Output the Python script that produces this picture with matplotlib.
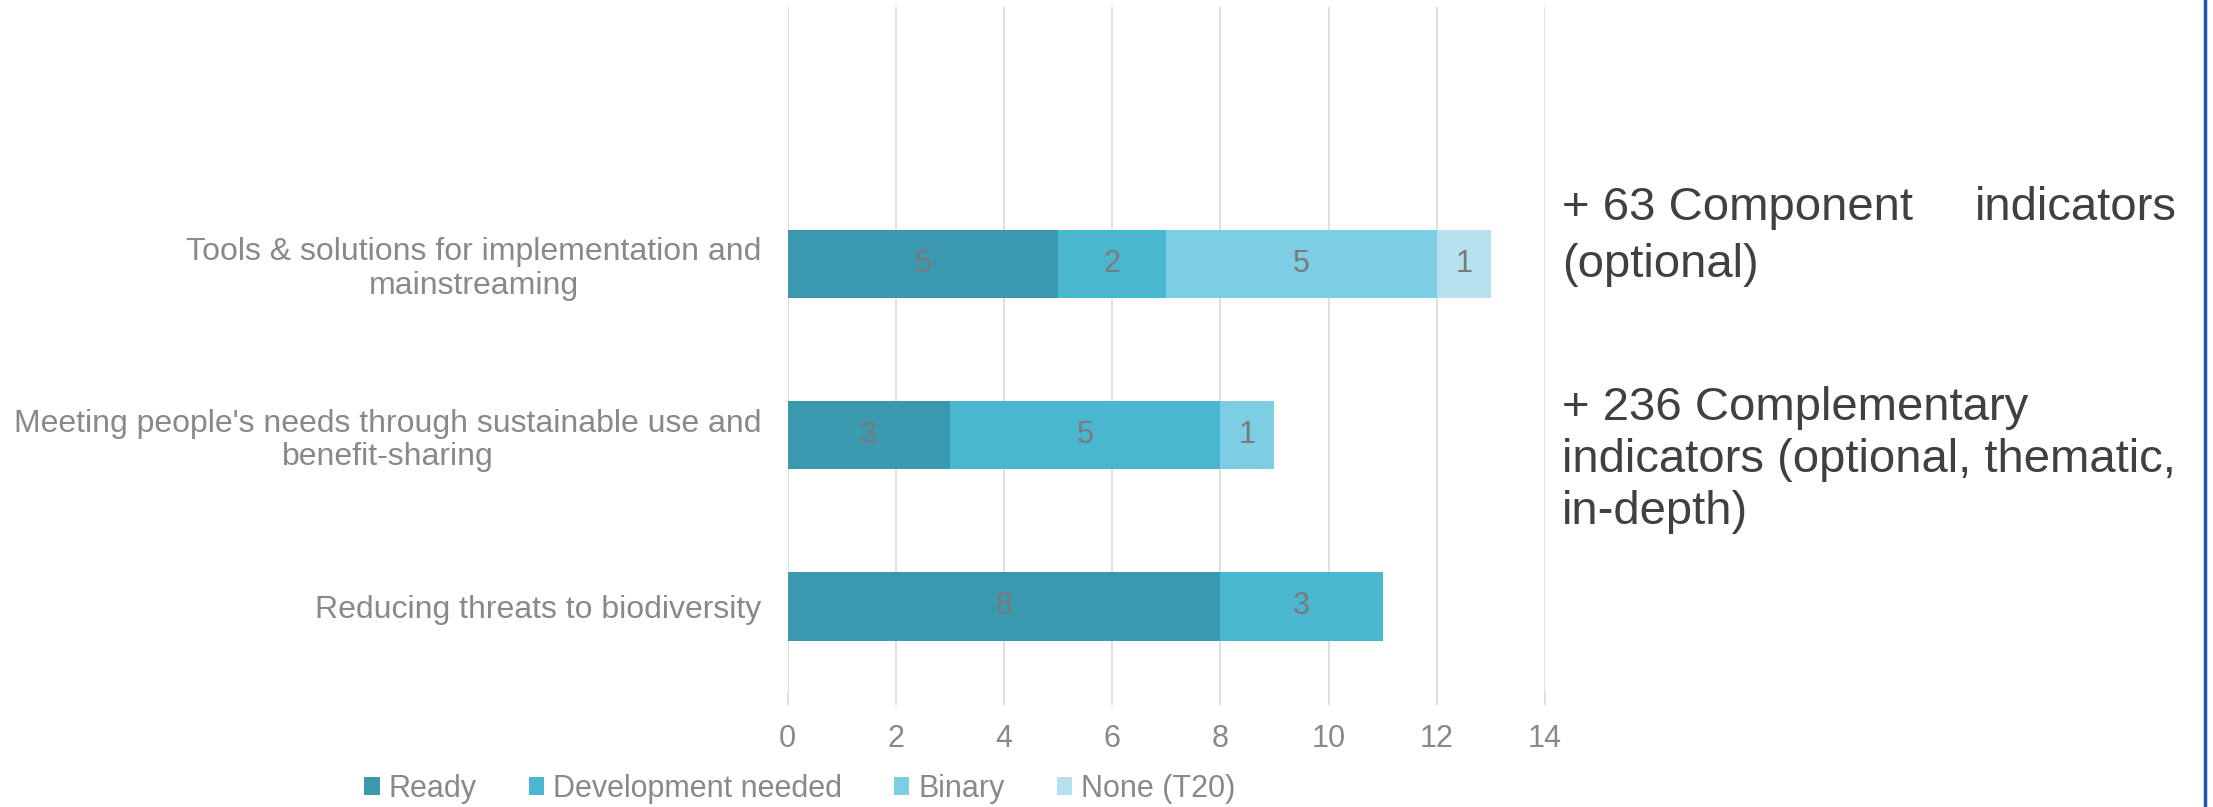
import matplotlib.pyplot as plt
import numpy as np

plt.rcParams["font.family"] = ["Liberation Sans", "DejaVu Sans"]

# data (bottom to top, as drawn)
categories = [
    "Reducing threats to biodiversity",
    "Meeting people's needs through sustainable use and\nbenefit-sharing",
    "Tools & solutions for implementation and\nmainstreaming",
]
series_names = ["Ready", "Development needed", "Binary", "None (T20)"]
ready = [8, 3, 5]
development = [3, 5, 2]
binary = [0, 1, 5]
none_t20 = [0, 0, 1]
xticks = [0, 2, 4, 6, 8, 10, 12, 14]

colors = ["#3A99AE", "#4AB7D0", "#7ECEE3", "#B6E0EE"]
grey = "#898989"
label_grey = "#7A7A7A"

fig = plt.figure(figsize=(22.13, 8.07), dpi=100)
ax = fig.add_axes([787.5 / 2213, 1 - 692 / 807, (1545 - 787.5) / 2213, 685 / 807])

y = np.arange(len(categories))
left = np.zeros(len(categories))
for name, vals, c in zip(series_names, [ready, development, binary, none_t20], colors):
    bars = ax.barh(y, vals, left=left, height=0.4, color=c, label=name, zorder=2)
    ax.bar_label(bars, labels=[str(v) if v else "" for v in vals], label_type="center",
                 color=label_grey, fontsize=22)
    left += np.array(vals)

ax.set_xlim(0, 14)
ax.set_ylim(-0.5, 3.5)
ax.set_xticks(xticks)
ax.set_yticks(y)
ax.set_yticklabels(categories, ha="right", multialignment="center", linespacing=1.15)
ax.tick_params(axis="y", length=0, pad=19, labelsize=23, labelcolor=grey)
ax.tick_params(axis="x", length=9, width=1.2, color="#D9D9D9", labelsize=22,
               labelcolor=grey, pad=14)
ax.grid(axis="x", color="#D9D9D9", linewidth=1.2, zorder=0)
for s in ax.spines.values():
    s.set_visible(False)

fig.legend(loc="center", bbox_to_anchor=(800 / 2213, 1 - 789 / 807), ncol=4,
           frameon=False, fontsize=22, labelcolor=grey, handlelength=0.5,
           handleheight=0.5, handletextpad=0.3, columnspacing=1.7)

# side notes
txt = dict(fontsize=34, color="#404040", va="center")
x0 = 1562 / 2213
fig.text(x0, 1 - 208 / 807, "+ 63 Component", **txt)
fig.text(2177 / 2213, 1 - 208 / 807, "indicators", ha="right", **txt)
fig.text(x0, 1 - 265 / 807, "(optional)", **txt)
fig.text(x0, 1 - 408 / 807, "+ 236 Complementary", **txt)
fig.text(x0, 1 - 460 / 807, "indicators (optional, thematic,", **txt)
fig.text(x0, 1 - 512 / 807, "in-depth)", **txt)

fig.add_artist(plt.Line2D([2205 / 2213, 2205 / 2213], [0, 1], color="#1F58A6",
                          linewidth=2.5, transform=fig.transFigure))

fig.savefig("out.png", dpi=100, facecolor="white")
